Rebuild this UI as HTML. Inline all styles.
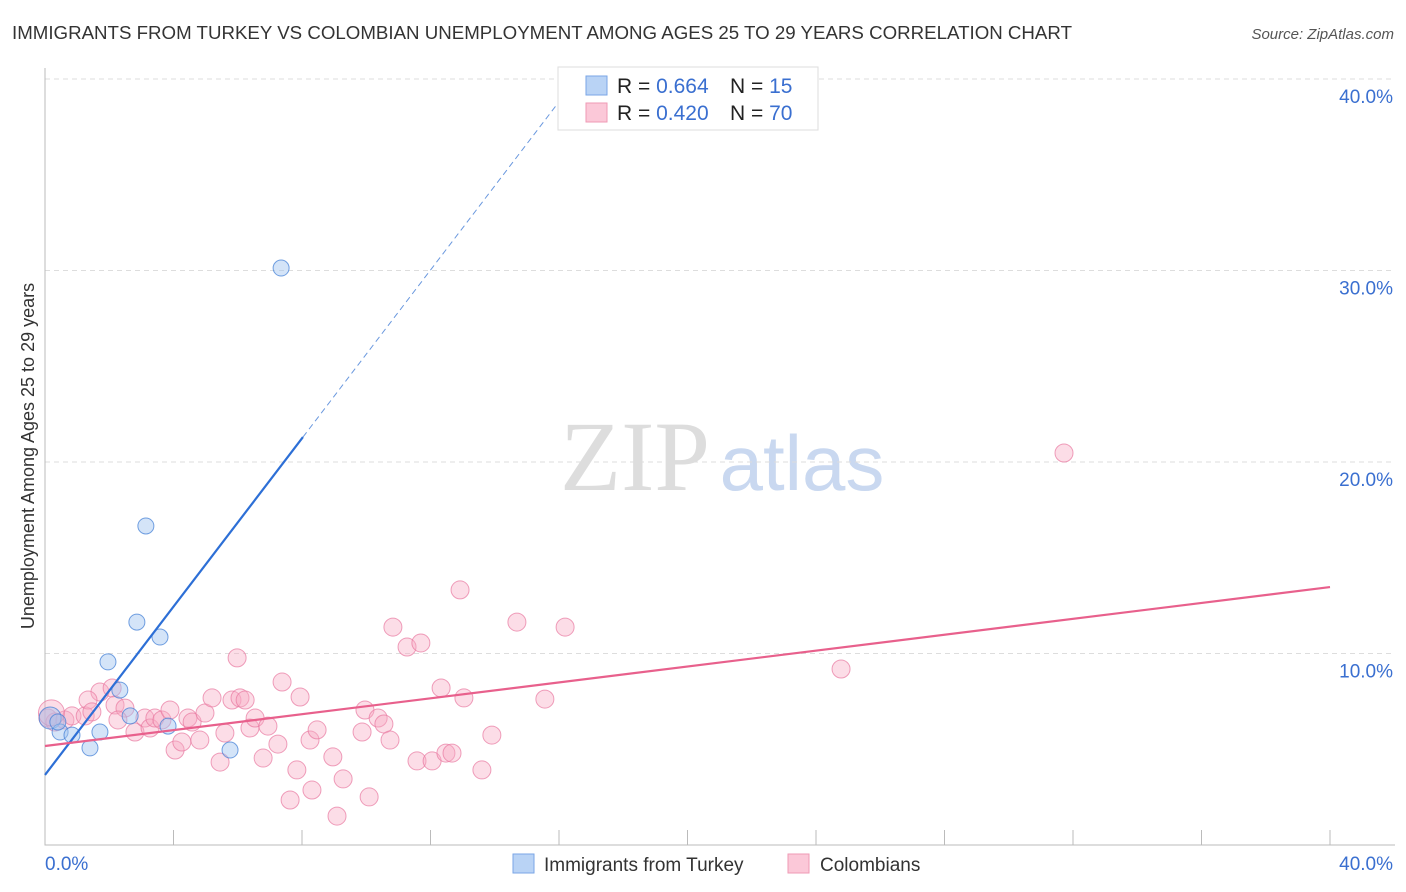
<!DOCTYPE html>
<html><head><meta charset="utf-8"><style>
body{margin:0;background:#fff;font-family:"Liberation Sans",sans-serif}
svg{display:block}
</style></head><body>
<svg id="c" width="1406" height="892">
<text x="12" y="39" font-size="18" fill="#333" textLength="1060" lengthAdjust="spacingAndGlyphs">IMMIGRANTS FROM TURKEY VS COLOMBIAN UNEMPLOYMENT AMONG AGES 25 TO 29 YEARS CORRELATION CHART</text>
<text x="1394" y="39" font-size="15" fill="#555" font-style="italic" text-anchor="end">Source: ZipAtlas.com</text>
<text x="34" y="456" font-size="18" fill="#333" text-anchor="middle" transform="rotate(-90 34 456)">Unemployment Among Ages 25 to 29 years</text>
<g><text x="635" y="490" font-size="100" fill="#ddd" font-family="Liberation Serif,serif" text-anchor="middle">ZIP</text><text x="802" y="490" font-size="78" fill="#c9d8f0" text-anchor="middle">atlas</text></g>
<g id="grid"></g><g id="axes"></g><g id="pts"></g><g id="lines"></g>
<g>
<rect x="558" y="67" width="260" height="63" fill="#fff" stroke="#ddd"/>
<rect x="586" y="76" width="21" height="19" fill="#b9d3f5" stroke="#7aa6e6"/>
<rect x="586" y="103" width="21" height="19" fill="#fbc8d8" stroke="#ef9ab5"/>
<text x="617" y="93" font-size="21" fill="#222">R = <tspan fill="#3a6fd0">0.664</tspan></text>
<text x="730" y="93" font-size="21" fill="#222">N = <tspan fill="#3a6fd0"> 15</tspan></text>
<text x="617" y="120" font-size="21" fill="#222">R = <tspan fill="#3a6fd0">0.420</tspan></text>
<text x="730" y="120" font-size="21" fill="#222">N = <tspan fill="#3a6fd0">70</tspan></text>
</g>
<g>
<rect x="513" y="854" width="21" height="19" fill="#b9d3f5" stroke="#7aa6e6"/>
<text x="544" y="871" font-size="19" fill="#333">Immigrants from Turkey</text>
<rect x="788" y="854" width="21" height="19" fill="#fbc8d8" stroke="#ef9ab5"/>
<text x="820" y="871" font-size="19" fill="#333">Colombians</text>
</g>
</svg>
<script>
const turkeyX=[0.16,0.47,0.84,1.40,1.71,1.96,2.33,2.65,2.86,3.14,3.58,3.83,5.76,7.35,0.40];
const turkeyY=[6.63,5.90,5.74,5.07,5.90,9.56,8.09,6.74,11.64,16.66,10.86,6.21,4.96,30.13,6.42];
const colX=[0.09,0.31,0.62,0.84,1.25,1.71,2.09,1.34,1.46,2.18,2.49,2.27,2.80,3.11,3.27,3.42,3.64,3.89,4.05,4.26,4.45,4.58,4.82,4.98,5.20,5.45,5.60,5.82,5.98,6.07,6.23,6.38,6.54,6.79,6.94,7.25,7.38,7.63,7.84,7.94,8.25,8.31,8.47,8.96,9.09,9.28,9.87,9.96,10.09,10.37,10.55,10.74,10.83,11.27,11.58,11.70,12.05,12.33,12.48,12.67,12.92,13.04,13.60,13.91,14.69,15.56,16.19,24.78,31.72,0.2];
const colY=[6.63,6.42,6.53,6.74,6.74,7.99,8.20,7.57,6.95,7.31,7.15,6.53,5.90,6.63,6.11,6.63,6.53,7.05,4.96,5.38,6.63,6.42,5.48,6.89,7.68,4.33,5.85,7.57,9.77,7.68,7.57,6.11,6.63,4.54,6.21,5.27,8.51,2.35,3.92,7.73,5.48,2.87,6.01,4.60,1.51,3.45,5.90,7.05,2.51,6.63,6.32,5.48,11.38,10.34,4.39,10.55,4.39,8.20,4.80,4.80,13.32,7.68,3.92,5.74,11.64,7.62,11.38,9.19,20.47,6.9];
const yTicks=[10,20,30,40];
const xTickLabels=["0.0%","40.0%"];
const turkeyTrend=[3.66,2.197];
const colTrend=[5.17,0.2075];
const NS='http://www.w3.org/2000/svg';
const X=v=>45+v*32.125, Y=v=>845-v*19.15;
function mk(p,t,a){const e=document.createElementNS(NS,t);for(const k in a)e.setAttribute(k,a[k]);document.getElementById(p).appendChild(e);return e;}
yTicks.forEach(t=>{
 const g=mk('grid','line',{x1:45,x2:1395,y1:Y(t),y2:Y(t),stroke:'#ddd','stroke-dasharray':'5,4'});
 
 
 const l=mk('grid','text',{x:1393,y:Y(t)+24,'font-size':19,fill:'#3a6fd0','text-anchor':'end'});
 l.textContent=t.toFixed(1)+'%';
 
 
});
const ax=mk('axes','path',{d:'M45 68V845H1395',stroke:'#bbb',fill:'none'});


for(let i=0;i<=10;i++){const t=mk('axes','line',{x1:X(i*4),x2:X(i*4),y1:830,y2:845,stroke:'#bbb'});
 
 }
const xl0=mk('axes','text',{x:45,y:870,'font-size':19,fill:'#3a6fd0'});xl0.textContent=xTickLabels[0];


const xl1=mk('axes','text',{x:1393,y:870,'font-size':19,fill:'#3a6fd0','text-anchor':'end'});xl1.textContent=xTickLabels[1];


colX.forEach((x,i)=>{const r=i==colX.length-1?13:9;const c=mk('pts','circle',{cx:X(x),cy:Y(colY[i]),r:r,fill:'rgba(247,170,195,0.4)',stroke:'rgba(232,120,160,0.7)'});
 
 });
turkeyX.forEach((x,i)=>{const c=mk('pts','circle',{cx:X(x),cy:Y(turkeyY[i]),r:i==0?11:8,fill:'rgba(160,195,240,0.45)',stroke:'rgba(70,130,215,0.75)'});
 
 });
const tl=mk('lines','line',{x1:X(0),y1:Y(turkeyTrend[0]),x2:X(8.03),y2:Y(turkeyTrend[0]+turkeyTrend[1]*8.03),stroke:'#2d6fd6','stroke-width':2.2});


const xe=(40.1-turkeyTrend[0])/turkeyTrend[1];
const td=mk('lines','line',{x1:X(8.03),y1:Y(turkeyTrend[0]+turkeyTrend[1]*8.03),x2:X(xe),y2:Y(40.1),stroke:'#6a98de','stroke-width':1,'stroke-dasharray':'6,4'});


const cl=mk('lines','line',{x1:X(0),y1:Y(colTrend[0]),x2:X(40),y2:Y(colTrend[0]+colTrend[1]*40),stroke:'#e8608c','stroke-width':2.2});


</script>
</body></html>
